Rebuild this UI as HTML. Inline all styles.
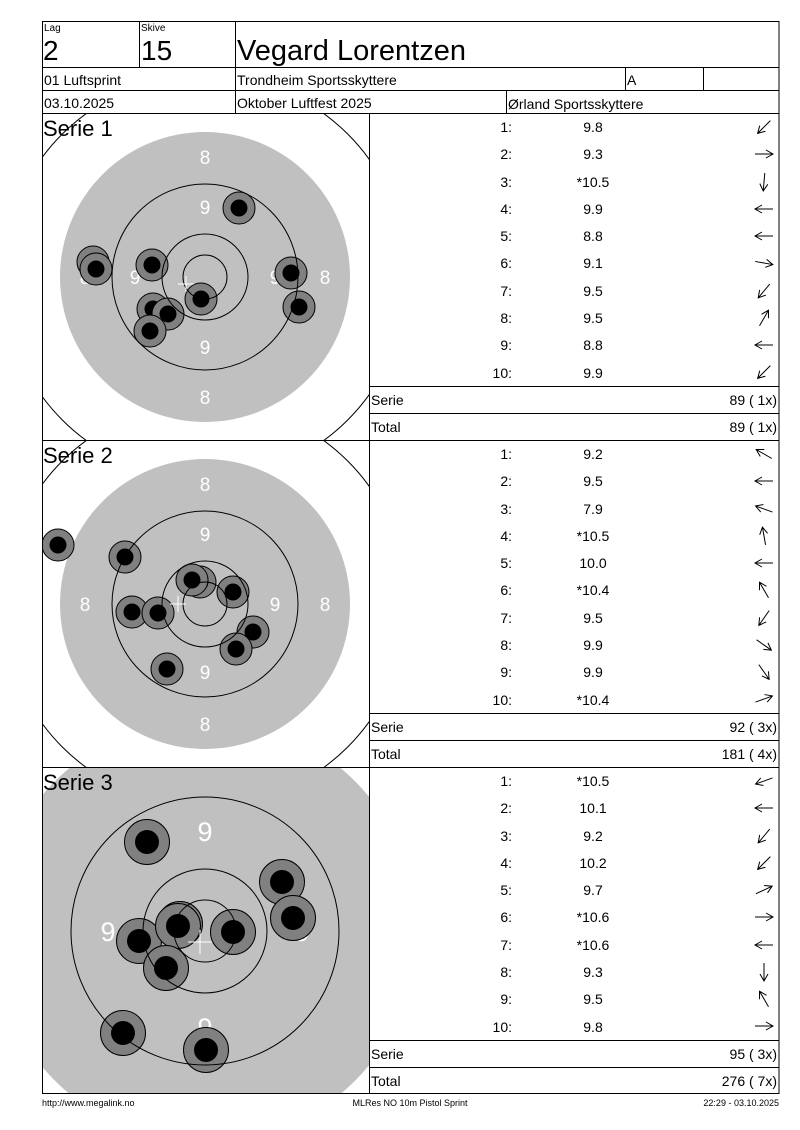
<!DOCTYPE html>
<html><head><meta charset="utf-8"><style>
html,body{margin:0;padding:0;background:#fff}
svg{display:block}
text{font-family:"Liberation Sans",Arial,sans-serif}
</style></head><body>
<svg width="800" height="1130" viewBox="0 0 800 1130" xmlns="http://www.w3.org/2000/svg">
<defs>
<clipPath id="c1"><rect x="43" y="114" width="326" height="326"/></clipPath>
<clipPath id="c2"><rect x="43" y="441" width="326" height="326"/></clipPath>
<clipPath id="c3"><rect x="43" y="768" width="326" height="326"/></clipPath>
<g id="ar"><path d="M-9,0 L9,0 M2,-4 L9,0 L2,4" fill="none" stroke="#000" stroke-width="1"/></g>
<g id="s"><circle r="16" fill="#808080" stroke="#000" stroke-width="1"/><circle r="8.5" fill="#000"/></g>
<g id="b"><circle r="22.5" fill="#808080" stroke="#000" stroke-width="1"/><circle r="12" fill="#000"/></g>
</defs>

<g clip-path="url(#c1)">
<circle cx="205" cy="277" r="202" fill="none" stroke="#000"/>
<circle cx="205" cy="277" r="145" fill="#c0c0c0"/>
<g fill="#fff" font-size="19" text-anchor="middle">
<text x="205" y="164">8</text><text x="205" y="404">8</text><text x="325" y="284">8</text><text x="85" y="284">8</text>
<text x="205" y="214">9</text><text x="205" y="354">9</text><text x="135" y="284">9</text><text x="275" y="284">9</text>
</g>
<use href="#s" x="239" y="208"/><use href="#s" x="93" y="262"/><use href="#s" x="96" y="269"/>
<use href="#s" x="152" y="265"/><use href="#s" x="291" y="273"/><use href="#s" x="299" y="307"/>
<use href="#s" x="201" y="299"/><use href="#s" x="153" y="309"/><use href="#s" x="168" y="314"/><use href="#s" x="150" y="331"/>
<g fill="none" stroke="#000"><circle cx="205" cy="277" r="93"/><circle cx="205" cy="277" r="43"/><circle cx="205" cy="277" r="22"/></g>
<path d="M178,284 H194 M186,276 V292" stroke="#fff"/>
</g>

<g clip-path="url(#c2)">
<circle cx="205" cy="604" r="202" fill="none" stroke="#000"/>
<circle cx="205" cy="604" r="145" fill="#c0c0c0"/>
<g fill="#fff" font-size="19" text-anchor="middle">
<text x="205" y="491">8</text><text x="205" y="731">8</text><text x="325" y="611">8</text><text x="85" y="611">8</text>
<text x="205" y="541">9</text><text x="205" y="679">9</text><text x="135" y="611">9</text><text x="275" y="611">9</text>
</g>
<use href="#s" x="58" y="545"/><use href="#s" x="125" y="557"/><use href="#s" x="132" y="612"/>
<use href="#s" x="158" y="613"/><use href="#s" x="200" y="582"/><use href="#s" x="192" y="580"/>
<use href="#s" x="233" y="592"/><use href="#s" x="253" y="632"/><use href="#s" x="236" y="649"/><use href="#s" x="167" y="669"/>
<g fill="none" stroke="#000"><circle cx="205" cy="604" r="93"/><circle cx="205" cy="604" r="43"/><circle cx="205" cy="604" r="22"/></g>
<path d="M170,604 H186 M178,596 V612" stroke="#fff"/>
</g>

<g clip-path="url(#c3)">
<circle cx="205" cy="931" r="212" fill="#c0c0c0"/>
<g fill="#fff" font-size="27" text-anchor="middle">
<text x="205" y="841">9</text><text x="108" y="941">9</text><text x="205" y="1037">9</text><text x="302" y="941">9</text>
</g>
<use href="#b" x="147" y="842"/><use href="#b" x="282" y="882"/><use href="#b" x="293" y="918"/>
<use href="#b" x="139" y="941"/><use href="#b" x="180" y="924"/><use href="#b" x="178" y="926"/>
<use href="#b" x="233" y="932"/><use href="#b" x="166" y="968"/><use href="#b" x="123" y="1033"/><use href="#b" x="206" y="1050"/>
<g fill="none" stroke="#000"><circle cx="205" cy="931" r="134"/><circle cx="205" cy="931" r="62"/><circle cx="205" cy="931" r="31"/></g>
<path d="M188,942 H212 M200,930 V954" stroke="#fff"/>
</g>

<g stroke="#000" stroke-width="1" fill="none">
<rect x="42.5" y="21.5" width="736.5" height="1072"/>
<path d="M139.5,21 V67 M235.5,21 V113 M42,67.5 H779 M42,90.5 H779 M42,113.5 H779 M625.5,67 V90 M703.5,67 V90 M506.5,90 V113"/>
<path d="M369.5,113 V1094 M42,440.5 H779 M42,767.5 H779"/>
<path d="M369,386.5 H779 M369,413.5 H779 M369,713.5 H779 M369,740.5 H779 M369,1040.5 H779 M369,1067.5 H779"/>
</g>

<g fill="#000">
<text x="44" y="31" font-size="10">Lag</text>
<text x="141" y="31" font-size="10">Skive</text>
<text x="43" y="60" font-size="28">2</text>
<text x="141" y="60" font-size="28">15</text>
<text x="237" y="60" font-size="29">Vegard Lorentzen</text>
<text x="44" y="85" font-size="14">01 Luftsprint</text>
<text x="237" y="85" font-size="14">Trondheim Sportsskyttere</text>
<text x="627" y="85" font-size="14">A</text>
<text x="44" y="108" font-size="14">03.10.2025</text>
<text x="237" y="108" font-size="14">Oktober Luftfest 2025</text>
<text x="508" y="109" font-size="14">Ørland Sportsskyttere</text>
<text x="43" y="136" font-size="22">Serie 1</text>
<text x="43" y="463" font-size="22">Serie 2</text>
<text x="43" y="790" font-size="22">Serie 3</text>
</g>

<g font-size="14" fill="#000">
<g text-anchor="end">
<text x="512" y="132">1:</text><text x="512" y="159">2:</text><text x="512" y="187">3:</text><text x="512" y="214">4:</text><text x="512" y="241">5:</text>
<text x="512" y="268">6:</text><text x="512" y="296">7:</text><text x="512" y="323">8:</text><text x="512" y="350">9:</text><text x="512" y="378">10:</text>
</g>
<g text-anchor="middle">
<text x="593" y="132">9.8</text><text x="593" y="159">9.3</text><text x="593" y="187">*10.5</text><text x="593" y="214">9.9</text><text x="593" y="241">8.8</text>
<text x="593" y="268">9.1</text><text x="593" y="296">9.5</text><text x="593" y="323">9.5</text><text x="593" y="350">8.8</text><text x="593" y="378">9.9</text>
</g>
<text x="371" y="405">Serie</text><text x="777" y="405" text-anchor="end">89 ( 1x)</text>
<text x="371" y="432">Total</text><text x="777" y="432" text-anchor="end">89 ( 1x)</text>
</g>
<use href="#ar" transform="translate(764,127) rotate(135)"/>
<use href="#ar" transform="translate(764,154) rotate(0)"/>
<use href="#ar" transform="translate(764,182) rotate(95)"/>
<use href="#ar" transform="translate(764,209) rotate(180)"/>
<use href="#ar" transform="translate(764,236) rotate(180)"/>
<use href="#ar" transform="translate(764,263) rotate(10)"/>
<use href="#ar" transform="translate(764,291) rotate(130)"/>
<use href="#ar" transform="translate(764,318) rotate(-60)"/>
<use href="#ar" transform="translate(764,345) rotate(180)"/>
<use href="#ar" transform="translate(764,372) rotate(135)"/>

<g font-size="14" fill="#000">
<g text-anchor="end">
<text x="512" y="459">1:</text><text x="512" y="486">2:</text><text x="512" y="514">3:</text><text x="512" y="541">4:</text><text x="512" y="568">5:</text>
<text x="512" y="595">6:</text><text x="512" y="623">7:</text><text x="512" y="650">8:</text><text x="512" y="677">9:</text><text x="512" y="705">10:</text>
</g>
<g text-anchor="middle">
<text x="593" y="459">9.2</text><text x="593" y="486">9.5</text><text x="593" y="514">7.9</text><text x="593" y="541">*10.5</text><text x="593" y="568">10.0</text>
<text x="593" y="595">*10.4</text><text x="593" y="623">9.5</text><text x="593" y="650">9.9</text><text x="593" y="677">9.9</text><text x="593" y="705">*10.4</text>
</g>
<text x="371" y="732">Serie</text><text x="777" y="732" text-anchor="end">92 ( 3x)</text>
<text x="371" y="759">Total</text><text x="777" y="759" text-anchor="end">181 ( 4x)</text>
</g>
<use href="#ar" transform="translate(764,454) rotate(-150)"/>
<use href="#ar" transform="translate(764,481) rotate(180)"/>
<use href="#ar" transform="translate(764,509) rotate(-160)"/>
<use href="#ar" transform="translate(764,536) rotate(-100)"/>
<use href="#ar" transform="translate(764,563) rotate(180)"/>
<use href="#ar" transform="translate(764,590) rotate(-120)"/>
<use href="#ar" transform="translate(764,618) rotate(125)"/>
<use href="#ar" transform="translate(764,645) rotate(35)"/>
<use href="#ar" transform="translate(764,672) rotate(55)"/>
<use href="#ar" transform="translate(764,699) rotate(-20)"/>

<g font-size="14" fill="#000">
<g text-anchor="end">
<text x="512" y="786">1:</text><text x="512" y="813">2:</text><text x="512" y="841">3:</text><text x="512" y="868">4:</text><text x="512" y="895">5:</text>
<text x="512" y="922">6:</text><text x="512" y="950">7:</text><text x="512" y="977">8:</text><text x="512" y="1004">9:</text><text x="512" y="1032">10:</text>
</g>
<g text-anchor="middle">
<text x="593" y="786">*10.5</text><text x="593" y="813">10.1</text><text x="593" y="841">9.2</text><text x="593" y="868">10.2</text><text x="593" y="895">9.7</text>
<text x="593" y="922">*10.6</text><text x="593" y="950">*10.6</text><text x="593" y="977">9.3</text><text x="593" y="1004">9.5</text><text x="593" y="1032">9.8</text>
</g>
<text x="371" y="1059">Serie</text><text x="777" y="1059" text-anchor="end">95 ( 3x)</text>
<text x="371" y="1086">Total</text><text x="777" y="1086" text-anchor="end">276 ( 7x)</text>
</g>
<use href="#ar" transform="translate(764,781) rotate(160)"/>
<use href="#ar" transform="translate(764,808) rotate(180)"/>
<use href="#ar" transform="translate(764,836) rotate(130)"/>
<use href="#ar" transform="translate(764,863) rotate(135)"/>
<use href="#ar" transform="translate(764,890) rotate(-25)"/>
<use href="#ar" transform="translate(764,917) rotate(0)"/>
<use href="#ar" transform="translate(764,945) rotate(180)"/>
<use href="#ar" transform="translate(764,972) rotate(90)"/>
<use href="#ar" transform="translate(764,999) rotate(-120)"/>
<use href="#ar" transform="translate(764,1026) rotate(0)"/>

<g font-size="9" fill="#000">
<text x="42" y="1106">http://www.megalink.no</text>
<text x="410" y="1106" text-anchor="middle">MLRes NO  10m Pistol Sprint</text>
<text x="779" y="1106" text-anchor="end">22:29 - 03.10.2025</text>
</g>
</svg>
</body></html>
